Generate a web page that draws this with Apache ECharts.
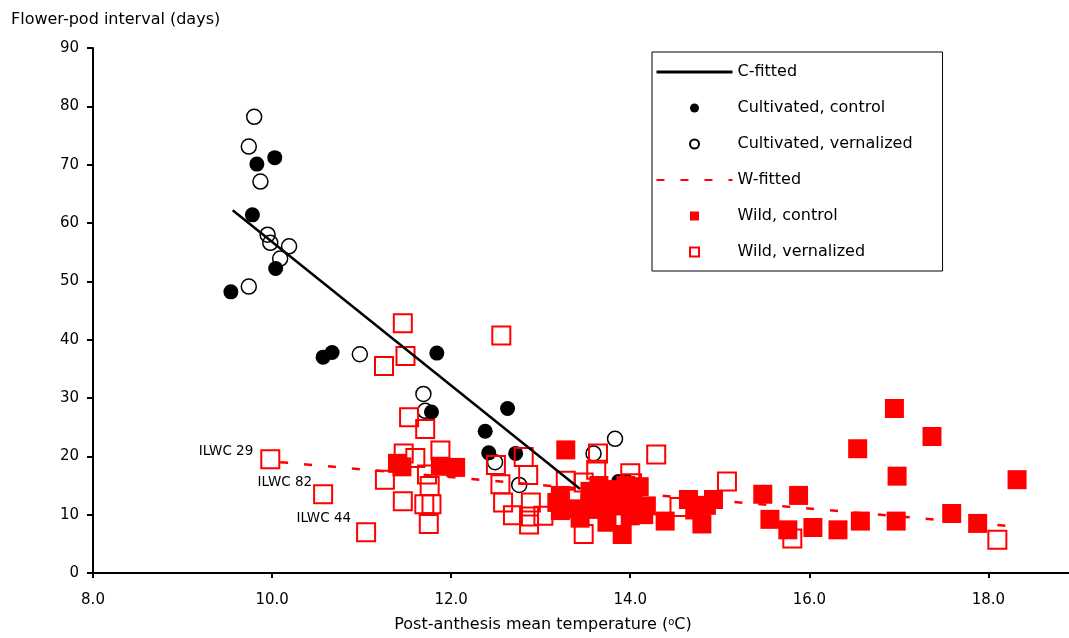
<!DOCTYPE html>
<html><head><meta charset="utf-8">
<script src="https://cdn.jsdelivr.net/npm/echarts@6/dist/echarts.min.js"></script>
<style>html,body{margin:0;padding:0;background:#fff}#chart{width:1069px;height:638px}</style>
</head><body><div id="chart"></div>
<script>
const xTicks = [8, 10, 12, 14, 16, 18];
const yTicks = [0, 10, 20, 30, 40, 50, 60, 70, 80, 90];

const cultCtrlX = [9.54, 9.78, 9.83, 10.03, 10.04, 10.57, 10.67, 11.78, 11.84, 12.38, 12.42, 12.63, 12.72, 13.87, 13.97];
const cultCtrlY = [48.2, 61.4, 70.1, 71.2, 52.2, 37.0, 37.8, 27.6, 37.7, 24.3, 20.6, 28.2, 20.5, 15.7, 15.6];

const cultVernX = [9.74, 9.80, 9.87, 9.95, 9.98, 10.19, 10.09, 9.74, 10.98, 11.69, 11.71, 12.49, 12.76, 13.59, 13.83];
const cultVernY = [73.1, 78.2, 67.1, 58.0, 56.6, 56.0, 53.9, 49.1, 37.5, 30.7, 27.8, 19.0, 15.1, 20.5, 23.0];

const wildCtrlX = [11.40, 11.45, 11.88, 12.05, 13.18, 13.22, 13.22, 13.28, 13.44, 13.55, 13.59, 13.66, 13.65, 13.74,
  13.80, 13.85, 13.91, 13.95, 13.95, 14.00, 14.03, 14.10, 14.15, 14.18, 14.39, 14.65, 14.72, 14.80, 14.85, 14.93,
  13.35, 13.75, 14.05, 13.55,
  15.48, 15.56, 15.76, 15.88, 16.04, 16.32, 16.54, 16.57, 16.95, 16.97, 16.98, 17.37, 17.59, 17.88, 18.32];
const wildCtrlY = [18.8, 18.2, 18.3, 18.1, 12.1, 13.3, 10.7, 21.1, 9.4, 12.0, 10.9, 13.2, 15.0, 8.7,
  11.5, 14.3, 6.6, 12.0, 15.0, 9.8, 13.2, 14.8, 10.0, 11.5, 8.9, 12.6, 10.8, 8.4, 11.6, 12.6,
  11.0, 12.5, 11.0, 14.0,
  13.5, 9.2, 7.4, 13.3, 7.8, 7.4, 21.3, 8.9, 28.2, 8.9, 16.6, 23.4, 10.2, 8.5, 16.0];

const wildVernX = [11.25, 11.46, 11.49, 11.53, 11.71, 11.47, 11.60, 11.88, 11.26, 11.73, 11.76, 11.46, 11.70, 11.78, 11.75,
  12.56, 12.50, 12.81, 12.55, 12.86, 12.58, 12.89, 12.69, 12.87, 12.87, 13.03,
  13.28, 13.48, 13.64, 13.62, 14.00, 14.02, 14.29, 13.48, 14.55, 15.08, 15.81, 18.10];
const wildVernY = [35.5, 42.8, 37.2, 26.7, 24.7, 20.5, 19.7, 21.0, 16.0, 16.9, 14.9, 12.3, 11.8, 11.8, 8.4,
  40.7, 18.5, 19.9, 15.2, 16.8, 12.1, 12.1, 9.9, 9.7, 8.3, 9.8,
  15.8, 15.5, 20.5, 17.7, 17.1, 15.4, 20.3, 6.7, 11.3, 15.7, 5.9, 5.7];

const ilwcNames = ['ILWC 29', 'ILWC 82', 'ILWC 44'];
const ilwcX = [9.98, 10.57, 11.05];
const ilwcY = [19.5, 13.5, 7.0];

const cFitX = [9.56, 13.44];
const cFitY = [62.2, 14.4];
const wFitX = [10.09, 18.34];
const wFitY = [19.0, 7.9];

const FONT = 'DejaVu Sans';
const zip = (xs, ys) => xs.map((x, i) => [x, ys[i]]);
const ilwcLabelStyle = [
  { distance: 7, offset: [0, -8] },
  { distance: 1, offset: [0, -12] },
  { distance: 5, offset: [0, -14] }
];
const wildVernData = zip(wildVernX, wildVernY).concat(ilwcNames.map((n, i) => ({
  value: [ilwcX[i], ilwcY[i]],
  label: Object.assign({ show: true, formatter: n, position: 'left', color: '#000', fontFamily: FONT, fontSize: 13.5 }, ilwcLabelStyle[i])
})));
const SQUARE = 'path://M0,0L10,0L10,10L0,10Z';

const chart = echarts.init(document.getElementById('chart'), null, { renderer: 'canvas' });
chart.setOption({
  animation: false,
  backgroundColor: '#fff',
  textStyle: { fontFamily: FONT, color: '#000' },
  title: {
    text: 'Flower-pod interval (days)', left: 6, top: 7,
    textStyle: { fontFamily: FONT, fontSize: 16, fontWeight: 'normal', color: '#000' }
  },
  grid: { left: 93, right: 0, top: 48, bottom: 60, containLabel: false },
  xAxis: {
    type: 'value', min: 8, max: 18.9, interval: 2,
    name: 'Post-anthesis mean temperature ({sup|o}C)',
    nameLocation: 'middle', nameGap: 44,
    nameTextStyle: { fontFamily: FONT, fontSize: 16, color: '#000', padding: [0, 76, 0, 0],
      rich: { sup: { fontSize: 10, verticalAlign: 'top', padding: [0, 0, 6, 0], fontFamily: FONT } } },
    axisLine: { lineStyle: { color: '#000', width: 2 } },
    axisTick: { show: true, length: 5, lineStyle: { color: '#000', width: 2 }, customValues: xTicks },
    axisLabel: { fontFamily: FONT, fontSize: 15, color: '#000', margin: 20, customValues: xTicks,
      formatter: v => v.toFixed(1) },
    splitLine: { show: false }
  },
  yAxis: {
    type: 'value', min: 0, max: 90, interval: 10,
    axisLine: { show: true, lineStyle: { color: '#000', width: 2 } },
    axisTick: { show: true, length: 6, lineStyle: { color: '#000', width: 2 }, customValues: yTicks },
    axisLabel: { fontFamily: FONT, fontSize: 15, color: '#000', margin: 14, customValues: yTicks },
    splitLine: { show: false }
  },
  legend: {
    orient: 'vertical', left: 652, top: 52,
    padding: [11, 30, 10, 3],
    itemWidth: 76, itemHeight: 9, itemGap: 18,
    borderColor: '#000', borderWidth: 1,
    textStyle: { fontFamily: FONT, fontSize: 16, color: '#000', lineHeight: 18 },
    data: [
      { name: 'C-fitted', itemStyle: { opacity: 0 }, lineStyle: { width: 3 } },
      { name: 'Cultivated, control' },
      { name: 'Cultivated, vernalized' },
      { name: 'W-fitted', itemStyle: { opacity: 0 } },
      { name: 'Wild, control', icon: SQUARE },
      { name: 'Wild, vernalized', icon: SQUARE }
    ]
  },
  series: [
    {
      name: 'Cultivated, vernalized', type: 'scatter', symbol: 'circle', symbolSize: 15,
      itemStyle: { color: 'rgba(255,255,255,0)', borderColor: '#000', borderWidth: 1.5, opacity: 1 },
      data: zip(cultVernX, cultVernY)
    },
    {
      name: 'Cultivated, control', type: 'scatter', symbol: 'circle', symbolSize: 15,
      itemStyle: { color: '#000', opacity: 1 },
      data: zip(cultCtrlX, cultCtrlY)
    },
    {
      name: 'C-fitted', type: 'line', symbol: 'none', showSymbol: false,
      lineStyle: { color: '#000', width: 2.5 }, itemStyle: { color: '#000' },
      data: zip(cFitX, cFitY)
    },
    {
      name: 'Wild, control', type: 'scatter', symbol: 'rect', symbolSize: 19,
      itemStyle: { color: '#ff0000', opacity: 1 },
      data: zip(wildCtrlX, wildCtrlY)
    },
    {
      name: 'Wild, vernalized', type: 'scatter', symbol: 'rect', symbolSize: 18,
      itemStyle: { color: 'rgba(255,255,255,0)', borderColor: '#ff0000', borderWidth: 2, opacity: 1 },
      data: wildVernData
    },
    {
      name: 'W-fitted', type: 'line', symbol: 'none', showSymbol: false,
      lineStyle: { color: '#ff0000', width: 2.5, type: [8, 16] }, itemStyle: { color: '#ff0000' },
      data: zip(wFitX, wFitY)
    }
  ]
});
</script>
</body></html>
